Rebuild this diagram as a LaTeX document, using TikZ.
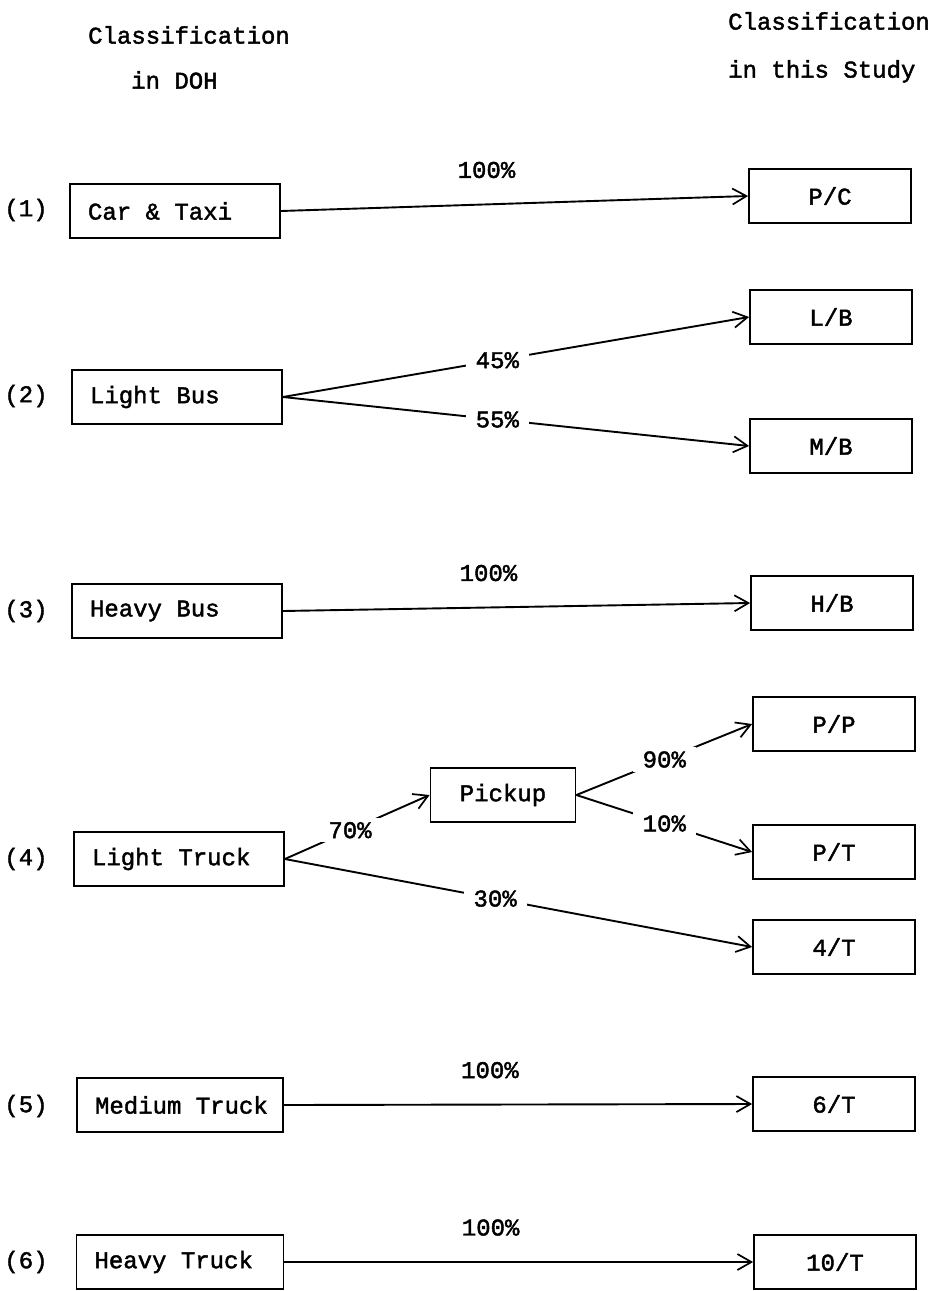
\documentclass[tikz,border=0pt]{standalone}
\usepackage{fontspec}
\setmainfont{Liberation Mono}[FakeBold=1.8,WordSpace={1,0,0}]
\usetikzlibrary{arrows.meta}
\begin{document}
\begin{tikzpicture}[x=1pt,y=-1pt,
  font=\fontsize{24}{30}\selectfont,
  lbox/.style={draw,line width=1.8pt,minimum height=54pt,inner xsep=18pt},
  rbox/.style={draw,line width=1.8pt,minimum height=54pt,minimum width=162pt},
  arr/.style={line width=1.9pt,-{Straight Barb[length=14pt,width=16pt,line width=1.7pt]}},
  lab/.style={fill=white,inner xsep=10pt,inner ysep=4pt},
  toplab/.style={above=22pt}]
\useasboundingbox (0,0) rectangle (946,1291);
% headers
\node[anchor=north west,align=left,inner sep=0pt] (hl) at (88,26) {Classification\\[15pt]\hspace*{43pt}in DOH};
\node[anchor=north west,align=left,inner sep=0pt] (hr) at (728,12) {Classification\\[18pt]in this Study};
% row numbers
\node (n1) at (26,210) {(1)};
\node (n2) at (26,396) {(2)};
\node (n3) at (26,611) {(3)};
\node (n4) at (26,859) {(4)};
\node (n5) at (26,1106) {(5)};
\node (n6) at (26,1262) {(6)};
% left boxes
\node[lbox] (ct) at (175,211) {\makebox[174pt][l]{Car \& Taxi}};
\node[lbox] (lb) at (177,397) {\makebox[174pt][l]{Light Bus}};
\node[lbox] (hb) at (177,611) {\makebox[174pt][l]{Heavy Bus}};
\node[lbox] (lt) at (179,859) {\makebox[174pt][l]{Light Truck}};
\node[lbox] (mt) at (180,1105) {\makebox[170pt][l]{Medium Truck}};
\node[lbox] (ht) at (180,1262) {\makebox[171pt][l]{Heavy Truck}};
% middle
\node[draw,line width=1.8pt,minimum height=54pt,minimum width=145pt] (pk) at (503,795) {Pickup};
% right boxes
\node[rbox] (pc) at (830,196) {P/C};
\node[rbox] (lbr) at (831,317) {L/B};
\node[rbox] (mb) at (831,446) {M/B};
\node[rbox] (hbr) at (832,603) {H/B};
\node[rbox] (pp) at (834,724) {P/P};
\node[rbox] (pt) at (834,852) {P/T};
\node[rbox] (ft) at (834,947) {4/T};
\node[rbox] (st) at (834,1104) {6/T};
\node[rbox] (tt) at (835,1262) {10/T};
% connectors
\draw[arr] (ct.east) -- node[pos=0.44,toplab]{100\%} (pc.west);
\draw[arr] (lb.east) -- node[pos=0.46,lab]{45\%} (lbr.west);
\draw[arr] (lb.east) -- node[pos=0.46,lab]{55\%} (mb.west);
\draw[arr] (hb.east) -- node[pos=0.44,toplab]{100\%} (hbr.west);
\draw[arr] (lt.east) -- node[pos=0.45,lab]{70\%} (pk.west);
\draw[arr] (pk.east) -- node[pos=0.5,lab]{90\%} (pp.west);
\draw[arr] (pk.east) -- node[pos=0.5,lab]{10\%} (pt.west);
\draw[arr] (lt.east) -- node[pos=0.45,lab]{30\%} (ft.west);
\draw[arr] (mt.east) -- node[pos=0.44,toplab]{100\%} (st.west);
\draw[arr] (ht.east) -- node[pos=0.44,toplab]{100\%} (tt.west);
\end{tikzpicture}
\end{document}
